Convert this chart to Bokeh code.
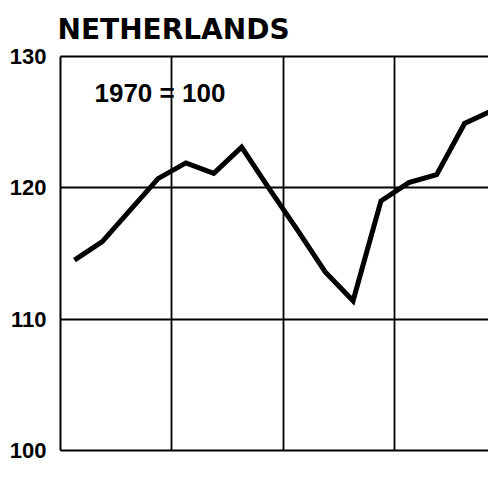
from bokeh.plotting import figure
from bokeh.models import Range1d, FixedTicker, Label, LinearAxis
from bokeh.embed import file_html
from bokeh.resources import INLINE

# Data (index, 1970 = 100), evenly spaced periods
periods = [0.5, 1.5, 2.5, 3.5, 4.5, 5.5, 6.5, 7.5, 8.5, 9.5, 10.5, 11.5, 12.5, 13.5, 14.5, 15.5]
values = [114.5, 115.9, 118.3, 120.7, 121.9, 121.1, 123.1, 119.9, 116.8, 113.6,
          111.4, 119.0, 120.4, 121.0, 124.9, 125.9]
y_ticks = [100, 110, 120, 130]
x_grid = [4, 8, 12]
title_text = "NETHERLANDS"
base_text = "1970 = 100"

p = figure(width=488, height=465, output_backend="svg", toolbar_location=None,
           x_range=Range1d(0, 15.36), y_range=Range1d(100, 130),
           min_border_left=60, min_border_right=0, min_border_top=56, min_border_bottom=15,
           x_axis_location=None, y_axis_location=None,
           title=title_text)
p.outline_line_color = None
p.background_fill_color = "white"
p.border_fill_color = "white"
p.title.text_font = "DejaVu Sans"
p.title.text_font_style = "bold"
p.title.text_font_size = "28px"
p.title.text_color = "black"
p.title.standoff = 21
p.title.offset = -3

# left axis
ya = LinearAxis(ticker=FixedTicker(ticks=y_ticks))
ya.axis_line_width = 2
ya.axis_line_color = "black"
ya.major_tick_line_color = None
ya.minor_tick_line_color = None
ya.major_label_standoff = 8
ya.major_label_text_font = "Liberation Sans"
ya.major_label_text_font_style = "bold"
ya.major_label_text_font_size = "22px"
ya.major_label_text_color = "black"
p.add_layout(ya, "left")

# top and bottom frame lines
for loc in ("above", "below"):
    ax = LinearAxis(ticker=FixedTicker(ticks=[]))
    ax.axis_line_width = 2
    ax.axis_line_color = "black"
    ax.major_tick_line_color = None
    ax.minor_tick_line_color = None
    ax.major_label_text_font_size = "0px"
    ax.major_label_standoff = 0
    p.add_layout(ax, loc)

p.xgrid.ticker = FixedTicker(ticks=x_grid)
p.ygrid.ticker = FixedTicker(ticks=[110, 120])
p.xgrid.grid_line_color = "black"
p.ygrid.grid_line_color = "black"
p.xgrid.grid_line_width = 1.8
p.ygrid.grid_line_width = 1.8

p.line(periods, values, line_color="black", line_width=5, line_join="miter")

p.add_layout(Label(x=1.22, y=127.2, text=base_text, text_font="Liberation Sans",
                   text_font_style="bold", text_font_size="26px", text_color="black",
                   text_baseline="middle"))

open("out.html", "w").write(file_html(p, INLINE))
